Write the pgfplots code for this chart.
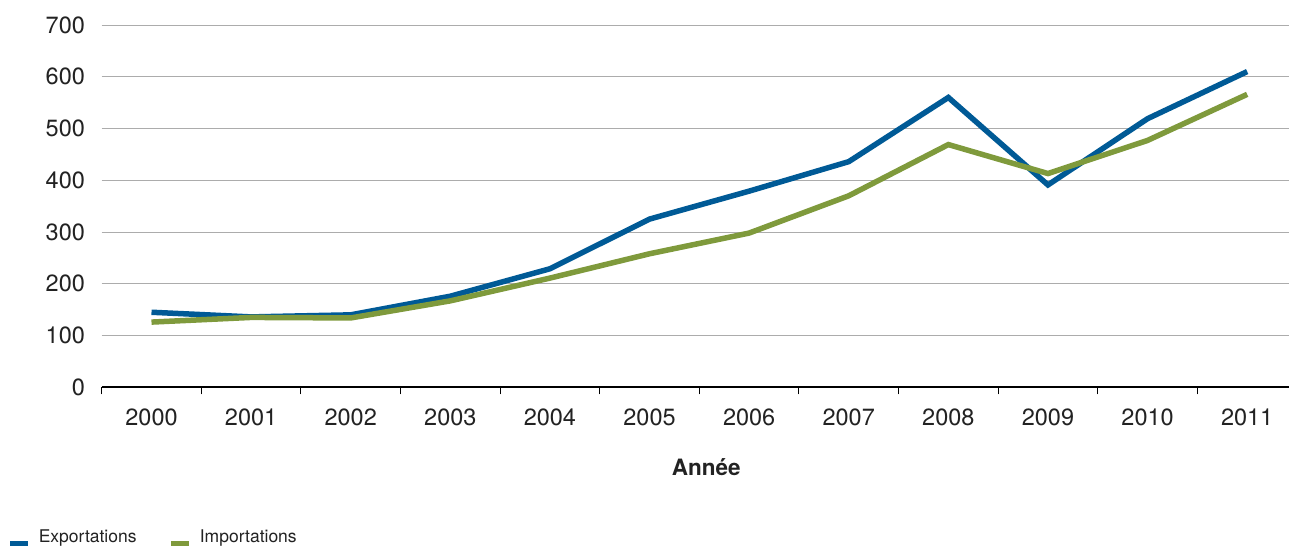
\documentclass[border=0pt]{standalone}
\usepackage{fontspec}
\setmainfont{TeX Gyre Heros}
\usepackage{pgfplots}
\pgfplotsset{compat=1.18}
\definecolor{expblue}{HTML}{005A96}
\definecolor{impgreen}{HTML}{7F9A3C}
\definecolor{txtgray}{HTML}{222222}
\begin{document}
\begin{tikzpicture}
\useasboundingbox (0,0) rectangle (1289pt,546pt);
\begin{axis}[
  at={(101.7pt,158.7pt)}, anchor=south west,
  scale only axis, width=1187.3pt, height=362.3pt,
  xmin=-0.5, xmax=11.42, ymin=0, ymax=700,
  axis x line=bottom, axis y line=left,
  x axis line style={-, line width=2pt, black},
  y axis line style={draw=none},
  xtick={0,...,11},
  xticklabels={2000,2001,2002,2003,2004,2005,2006,2007,2008,2009,2010,2011},
  major x tick style={draw=none},
  minor xtick={-0.5,0.5,...,10.5},
  minor x tick style={black, line width=1pt},
  minor tick length=7pt,
  tick align=outside,
  ytick={0,100,...,700},
  ytick style={draw=none},
  ymajorgrids, grid style={gray!65, line width=1pt},
  /pgf/number format/assume math mode=true,
  tick label style={font=\fontsize{23.5}{26}\selectfont, text=txtgray},
  xticklabel style={yshift=-14pt},
  yticklabel style={xshift=-9pt},
  xlabel={\textbf{Année}},
  xlabel style={font=\fontsize{22.5}{26}\selectfont, text=txtgray, xshift=11pt, yshift=-26pt},
  legend columns=2,
  legend style={at={(-0.082,-0.412)}, anchor=west, draw=none, fill=none,
    font=\fontsize{17.5}{19}\selectfont, text=txtgray,
    /tikz/every even column/.append style={column sep=30pt}},
  legend image code/.code={\draw[line width=5pt,#1] (0pt,-7pt) -- (18pt,-7pt); \path (24pt,0pt);},
]
\addplot[expblue, line width=5.5pt] coordinates {
(0,145) (1,136) (2,140) (3,176) (4,229) (5,325) (6,379) (7,436) (8,560) (9,391) (10,519) (11,610)};
\addlegendentry{Exportations}
\addplot[impgreen, line width=5.5pt] coordinates {
(0,126) (1,135) (2,134) (3,167) (4,211) (5,258) (6,298) (7,370) (8,469) (9,413) (10,477) (11,566)};
\addlegendentry{Importations}
\end{axis}
\end{tikzpicture}
\end{document}
